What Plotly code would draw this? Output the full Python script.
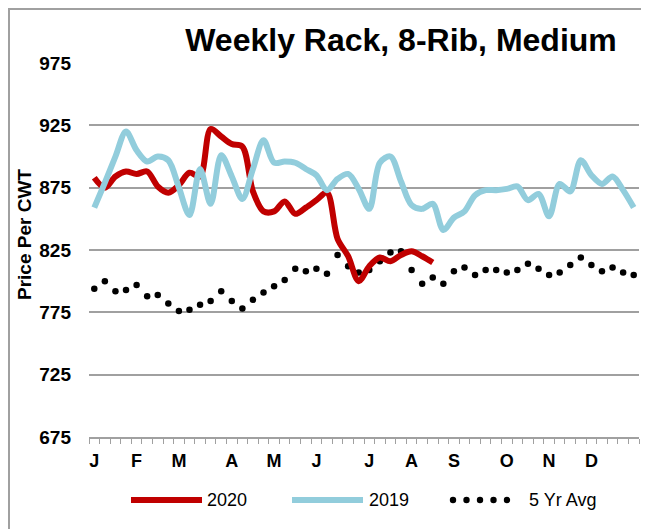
import plotly.graph_objects as go

# weekly data, week 1..52
weeks = list(range(1, 53))

y2020 = [883, 875, 884, 888, 886, 888, 876, 871, 877, 887,
         884, 922, 916, 910, 908, 872, 856, 856, 864, 854,
         859, 865, 871, 834, 820, 800, 812, 819, 816, 821,
         824, 820, 815]

y2019 = [859, 879, 900, 920, 905, 896, 900, 897, 875, 853,
         890, 862, 901, 884, 866, 890, 913, 895, 896, 895,
         890, 885, 873, 882, 886, 874, 858, 895, 900, 880,
         861, 858, 862, 841, 851, 856, 869, 873, 873, 874,
         876, 865, 870, 852, 878, 872, 897, 885, 878, 884,
         873, 859]

avg5 = [794, 800, 792, 793, 797, 788, 789, 782, 776, 777,
        781, 784, 792, 784, 778, 785, 791, 796, 801, 810,
        808, 810, 806, 821, 812, 807, 809, 816, 823, 824,
        809, 798, 803, 798, 808, 811, 805, 809, 809, 807,
        809, 814, 810, 805, 807, 813, 819, 813, 808, 811,
        807, 805]

month_labels = ["J", "F", "M", "A", "M", "J", "J", "A", "S", "O", "N", "D"]
month_weeks = [1, 5, 9, 14, 18, 22, 27, 31, 35, 40, 44, 48]

y_ticks = [675, 725, 775, 825, 875, 925, 975]

RED = "#C00000"
BLUE = "#92CDDC"
GRID = "#A0A0A0"
FONT = "Liberation Sans, Arial, sans-serif"

# page body adds an 8px offset, so the figure is a bit smaller
W, H = 641, 521
L, R, T, B = 81, 10, 55, 92
PW, PH = W - L - R, H - T - B

fig = go.Figure()

fig.add_trace(go.Scatter(
    x=weeks, y=avg5, mode="markers", name="5 Yr Avg",
    marker=dict(color="black", size=6.5), showlegend=False))
fig.add_trace(go.Scatter(
    x=weeks[:len(y2020)], y=y2020, mode="lines", name="2020",
    line=dict(color=RED, width=6, shape="spline", smoothing=0.9),
    showlegend=False))
fig.add_trace(go.Scatter(
    x=weeks, y=y2019, mode="lines", name="2019",
    line=dict(color=BLUE, width=6, shape="spline", smoothing=0.9),
    showlegend=False))

fig.update_layout(
    width=W, height=H,
    margin=dict(l=L, r=R, t=T, b=B),
    paper_bgcolor="white", plot_bgcolor="white",
    font=dict(family=FONT, color="black"),
    title=dict(text="Weekly Rack, 8-Rib, Medium",
               x=393 / W, xanchor="center", y=1 - 32 / H, yanchor="middle",
               font=dict(size=32, weight="bold", color="black")),
)

fig.update_xaxes(
    range=[0.5, 52.5], tickmode="array", tickvals=month_weeks, ticktext=month_labels,
    ticks="", ticklabelstandoff=6, showgrid=False, zeroline=False,
    showline=True, linecolor=GRID, linewidth=2,
    tickfont=dict(size=18, weight="bold"),
    minor=dict(tickmode="array", tickvals=[w - 0.5 for w in weeks] + [52.5],
               ticks="outside", ticklen=5, tickcolor=GRID, tickwidth=1, showgrid=False),
)
fig.update_yaxes(
    range=[675, 975], tickmode="array", tickvals=y_ticks,
    ticks="", ticklabelstandoff=17, showgrid=True, gridcolor=GRID, gridwidth=2,
    zeroline=False, showline=False,
    tickfont=dict(size=19, weight="bold"),
)


def px(x):
    # screen pixel -> paper x
    return (x - 8 - L) / PW


def py(y):
    # screen pixel -> paper y
    return (H - B - (y - 8)) / PH


# y axis title
fig.add_annotation(text="Price Per CWT", xref="paper", yref="paper",
                   x=px(25), y=py(235), textangle=-90, showarrow=False,
                   xanchor="center", yanchor="middle",
                   font=dict(size=19, weight="bold"))

# outer frame (left and top visible)
fig.add_shape(type="rect", xref="paper", yref="paper",
              x0=px(9), y0=py(560), x1=px(680), y1=py(9),
              line=dict(color=GRID, width=2), layer="below")

# custom legend
ly = py(500)
fig.add_shape(type="line", xref="paper", yref="paper",
              x0=px(131), x1=px(202), y0=ly, y1=ly,
              line=dict(color=RED, width=6))
fig.add_shape(type="line", xref="paper", yref="paper",
              x0=px(292), x1=px(363), y0=ly, y1=ly,
              line=dict(color=BLUE, width=6))
for dx in [453, 466.5, 480, 493.5, 507]:
    fig.add_shape(type="circle", xref="paper", yref="paper",
                  x0=px(dx - 3.2), x1=px(dx + 3.2),
                  y0=ly - 3.2 / PH, y1=ly + 3.2 / PH,
                  fillcolor="black", line=dict(width=0))
for label, lx in [("2020", 205), ("2019", 367), ("5 Yr Avg", 527)]:
    fig.add_annotation(text=label, xref="paper", yref="paper", x=px(lx), y=ly,
                       xanchor="left", yanchor="middle", showarrow=False,
                       font=dict(size=18))

fig.write_html("out.html")
